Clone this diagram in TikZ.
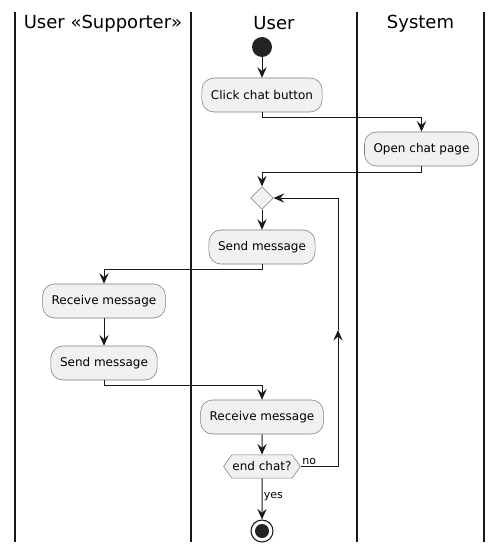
\documentclass[tikz,border=0pt]{standalone}
\usepackage{fontspec}
\setmainfont{DejaVu Sans}
\usetikzlibrary{positioning,arrows.meta,shapes.geometric,shapes.symbols}
\definecolor{actfill}{HTML}{F1F1F1}
\definecolor{actline}{HTML}{181818}
\definecolor{actborder}{HTML}{7A7A7A}

\begin{document}
\begin{tikzpicture}[x=0.75pt,y=-0.75pt,
  act/.style={draw=actborder,fill=actfill,rectangle,rounded corners=9pt,
    minimum height=25.5pt,inner xsep=6.8pt,font=\fontsize{9}{11}\selectfont},
  lane/.style={font=\fontsize{13.5}{16}\selectfont},
  arr/.style={draw=actline,line width=0.75pt,-{Stealth[length=8pt,width=7pt,inset=3pt]}},
  guard/.style={font=\fontsize{8.25}{10}\selectfont,inner sep=1pt}]
\useasboundingbox (0,0) rectangle (503,552);
% Swimlanes
\foreach \lx in {15,191,357,484}
  \draw[actline,line width=1.1pt] (\lx,12) -- (\lx,542);
\node[lane] (lsup) at (103,23.5) {User «Supporter»};
\node[lane] (luser) at (274,23.5) {User};
\node[lane] (lsys) at (420.5,23.5) {System};
% Flow nodes
\node[circle,fill=actline!95,minimum size=15pt,inner sep=0pt] (start) at (262,47) {};
\node[act] (click) at (262,95) {Click chat button};
\node[act] (open) at (421.5,149) {Open chat page};
\node[diamond,draw=actborder,fill=actfill,minimum size=17pt,inner sep=0pt] (dec) at (262,198) {};
\node[act] (send) at (262,247) {Send message};
\node[act] (recvsup) at (104,301) {Receive message};
\node[act] (sendsup) at (104,363) {Send message};
\node[act] (recv) at (262,417) {Receive message};
\node[signal,signal to=west and east,signal pointer angle=110,draw=actborder,fill=actfill,
  minimum height=17.5pt,inner xsep=0.5pt,inner ysep=0pt,font=\fontsize{9}{11}\selectfont] (endchat) at (262,466.5) {end chat?};
\node[circle,draw=actline,line width=0.8pt,fill=white,minimum size=16.5pt,inner sep=0pt] (stop) at (262,531) {};
\node[circle,fill=actline!95,minimum size=10.5pt,inner sep=0pt] at (stop) {};
\coordinate (loopb) at (338,466.5);
\coordinate (loopm) at (338,330);
\coordinate (loopt) at (338,198);
% Connectors
\draw[arr] (start) -- (click);
\draw[arr] (click.south) -- ++(0,5) -| (open.north);
\draw[arr] (open.south) -- ++(0,6) -| (dec.north);
\draw[arr] (dec.south) -- (send.north);
\draw[arr] (send.south) -- ++(0,5) -| (recvsup.north);
\draw[arr] (recvsup) -- (sendsup);
\draw[arr] (sendsup.south) -- ++(0,5) -| (recv.north);
\draw[arr] (recv) -- (endchat);
\draw[arr] (endchat) -- node[guard,right,pos=0.45] {yes} (stop);
\draw[arr] (endchat.east) -- (loopb) -- (loopm);
\draw[arr] (loopm) -- (loopt) -- (dec.east);
\node[guard,anchor=south west] (lno) at (endchat.east) {no};
\end{tikzpicture}
\end{document}
